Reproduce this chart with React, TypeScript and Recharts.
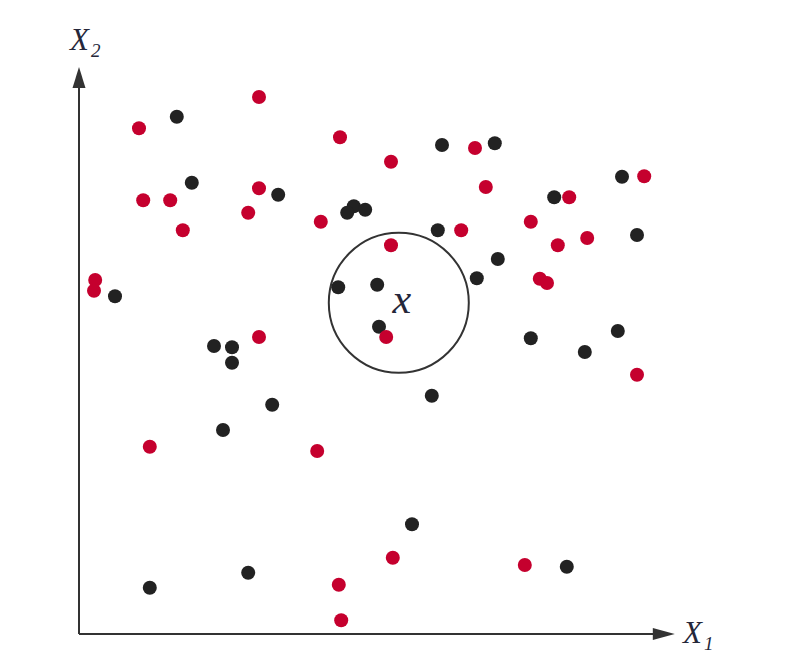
import React from 'react';
import { ScatterChart, Scatter, XAxis, YAxis, ReferenceLine, ReferenceDot } from 'recharts';

// Red class points (x1, x2)
const redX = [30.0, 10.0, 43.5, 52.0, 66.0, 10.7, 15.2, 30.0, 28.2, 17.3, 40.3, 67.8, 63.7, 75.3, 81.7, 94.2, 84.7, 79.8, 52.0, 2.7, 2.5, 76.8, 78.0, 30.0, 51.2, 93.0, 11.8, 39.7, 52.3, 74.3, 43.3, 43.7];
const redY = [89.5, 84.3, 82.8, 78.7, 81.0, 72.3, 72.3, 74.3, 70.2, 67.3, 68.7, 74.5, 67.3, 68.7, 72.8, 76.3, 66.0, 64.8, 64.8, 59.0, 57.2, 59.2, 58.5, 49.5, 49.5, 43.2, 31.2, 30.5, 12.7, 11.5, 8.2, 2.3];

// Black class points (x1, x2)
const blackX = [16.3, 60.5, 69.3, 18.8, 33.2, 45.8, 44.7, 47.7, 79.2, 90.5, 59.8, 93.0, 69.8, 66.3, 6.0, 43.2, 49.7, 50.0, 22.5, 25.5, 25.5, 75.3, 84.3, 89.8, 58.8, 32.2, 24.0, 55.5, 11.8, 28.2, 81.3];
const blackY = [86.2, 81.5, 81.8, 75.2, 73.2, 71.3, 70.2, 70.7, 72.8, 76.2, 67.3, 66.5, 62.5, 59.3, 56.3, 57.8, 58.2, 51.2, 48.0, 47.8, 45.2, 49.3, 47.0, 50.5, 39.7, 38.2, 34.0, 18.3, 7.7, 10.2, 11.2];

// Query point x and its neighbourhood
const queryPoint = { x: 53.3, y: 55.2 };
const axisTipX = 99.3;
const axisTipY = 94.5;

const redData = redX.map((x, i) => ({ x, y: redY[i] }));
const blackData = blackX.map((x, i) => ({ x, y: blackY[i] }));

const RED = '#c5002e';
const BLACK = '#222222';
const AXIS = '#333333';
const TEXT = '#25273a';
const FONT = '"Liberation Serif", "DejaVu Serif", serif';

const dotShape = (color: string) => (props: any) => (
  <circle cx={props.cx} cy={props.cy} r={7} fill={color} />
);

export default function App() {
  return (
    <div style={{ position: 'absolute', left: 0, top: 0, width: 789, height: 662, background: '#fff' }}>
      <ScatterChart width={789} height={662} margin={{ top: 34, right: 110, bottom: 28, left: 79 }}>
        <XAxis type="number" dataKey="x" domain={[0, 100]} hide />
        <YAxis type="number" dataKey="y" domain={[0, 100]} hide />
        <ReferenceLine segment={[{ x: 0, y: 0 }, { x: axisTipX - 3, y: 0 }]} stroke={AXIS} strokeWidth={2} />
        <ReferenceLine segment={[{ x: 0, y: 0 }, { x: 0, y: axisTipY - 3 }]} stroke={AXIS} strokeWidth={2} />
        <ReferenceDot
          x={axisTipX}
          y={0}
          ifOverflow="visible"
          shape={(p: any) => (
            <polygon points={`${p.cx},${p.cy} ${p.cx - 22},${p.cy - 6} ${p.cx - 22},${p.cy + 6}`} fill={AXIS} />
          )}
        />
        <ReferenceDot
          x={0}
          y={axisTipY}
          ifOverflow="visible"
          shape={(p: any) => (
            <polygon points={`${p.cx},${p.cy} ${p.cx - 6.5},${p.cy + 21} ${p.cx + 6.5},${p.cy + 21}`} fill={AXIS} />
          )}
        />
        <ReferenceDot
          x={queryPoint.x}
          y={queryPoint.y}
          r={70}
          fill="none"
          stroke={AXIS}
          strokeWidth={2}
          ifOverflow="visible"
        />
        <ReferenceDot
          x={queryPoint.x}
          y={queryPoint.y}
          ifOverflow="visible"
          shape={(p: any) => (
            <text x={p.cx + 3} y={p.cy + 10} textAnchor="middle" fontFamily={FONT} fontStyle="italic" fontSize={42} fill={TEXT}>
              x
            </text>
          )}
        />
        <ReferenceDot
          x={0}
          y={97.3}
          ifOverflow="visible"
          shape={(p: any) => (
            <text x={p.cx - 9} y={p.cy} fontFamily={FONT} fontStyle="italic" fontSize={31} fill={TEXT}>
              X
              <tspan fontSize={19} dx={2} dy={7}>2</tspan>
            </text>
          )}
        />
        <ReferenceDot
          x={100}
          y={-1.5}
          ifOverflow="visible"
          shape={(p: any) => (
            <text x={p.cx + 4} y={p.cy} fontFamily={FONT} fontStyle="italic" fontSize={31} fill={TEXT}>
              X
              <tspan fontSize={19} dx={2} dy={7}>1</tspan>
            </text>
          )}
        />
        <Scatter data={blackData} fill={BLACK} shape={dotShape(BLACK)} isAnimationActive={false} />
        <Scatter data={redData} fill={RED} shape={dotShape(RED)} isAnimationActive={false} />
      </ScatterChart>
    </div>
  );
}
